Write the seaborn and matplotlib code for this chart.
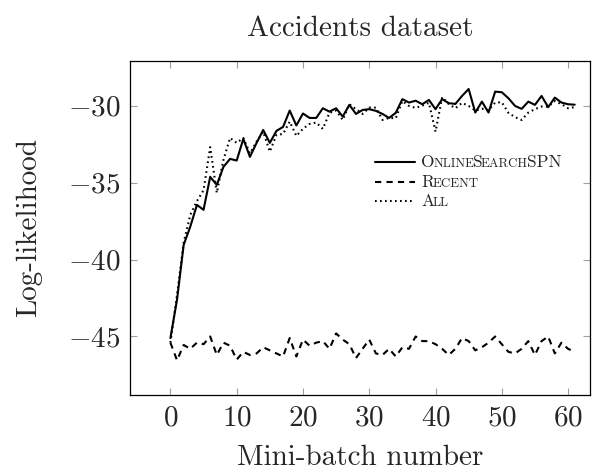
from itertools import groupby

import pandas as pd
import seaborn as sns
import matplotlib.pyplot as plt
from matplotlib.lines import Line2D
from matplotlib.offsetbox import AnchoredOffsetbox, DrawingArea, HPacker, TextArea, VPacker

# data
batch = list(range(62))
online = [-45.1, -42.6, -39.05, -37.86, -36.45, -36.77, -34.63, -35.15, -33.98, -33.46,
          -33.57, -32.16, -33.33, -32.42, -31.58, -32.42, -31.64, -31.38, -30.32, -31.29,
          -30.51, -30.8, -30.8, -30.17, -30.39, -30.17, -30.71, -29.95, -30.54, -30.28,
          -30.23, -30.34, -30.54, -30.8, -30.47, -29.58, -29.8, -29.68, -29.91, -29.63,
          -30.23, -29.58, -29.84, -29.89, -29.37, -28.92, -30.45, -29.74, -30.45, -29.09,
          -29.13, -29.52, -30.02, -30.21, -29.74, -29.95, -29.37, -30.1, -29.48, -29.8,
          -29.91, -29.94]
recent = [-45.4, -46.55, -45.55, -45.8, -45.4, -45.5, -45.0, -46.2, -45.4, -45.6,
          -46.5, -46.0, -46.2, -46.1, -45.7, -45.9, -46.1, -46.3, -45.1, -46.3,
          -45.2, -45.6, -45.4, -45.3, -45.8, -44.8, -45.2, -45.5, -46.4, -45.8,
          -45.2, -46.1, -46.2, -45.8, -46.3, -45.7, -45.8, -45.0, -45.3, -45.3,
          -45.5, -45.8, -46.2, -45.8, -45.1, -45.3, -45.9, -45.7, -45.4, -45.0,
          -45.5, -46.0, -46.1, -45.8, -45.3, -46.2, -45.3, -45.0, -46.1, -45.4,
          -45.8, -46.0]
all_batches = [-45.4, -42.3, -38.9, -37.1, -36.2, -35.5, -32.7, -35.67, -33.53, -32.1,
               -32.42, -32.1, -33.1, -32.34, -31.7, -32.99, -31.9, -31.84, -31.04, -31.97,
               -31.5, -31.19, -31.1, -31.51, -30.47, -30.32, -30.93, -29.91, -30.23, -30.54,
               -30.13, -30.13, -30.93, -30.8, -30.82, -29.7, -30.02, -30.15, -30.0, -29.82,
               -31.69, -29.45, -29.9, -30.17, -29.82, -30.02, -30.32, -30.2, -30.3, -29.8,
               -29.78, -30.47, -30.75, -30.93, -30.45, -30.23, -30.06, -30.06, -29.7, -29.9,
               -30.17, -30.1]
methods = ["OnlineSearchSPN", "Recent", "All"]

df = pd.DataFrame({
    "batch": batch * 3,
    "ll": online + recent + all_batches,
    "method": [m for m in methods for _ in batch],
})

sns.set_style("ticks")
plt.rcParams["font.family"] = "serif"
plt.rcParams["font.serif"] = ["cmr10"]
plt.rcParams["mathtext.fontset"] = "cm"
plt.rcParams["axes.formatter.use_mathtext"] = True

dashes = {"OnlineSearchSPN": "", "Recent": (3, 2.5), "All": (0.8, 1.6)}
lw = 1.5

fig = plt.figure(figsize=(6.06, 4.71), dpi=100)
ax = fig.add_axes([0.2145, 0.1614, 0.759, 0.7091])

sns.lineplot(data=df, x="batch", y="ll", style="method", dashes=dashes,
             color="black", lw=lw, legend=False, ax=ax)

ax.set_xlim(-6.1, 63.3)
ax.set_ylim(-48.8, -27.1)
ax.set_xticks(range(0, 61, 10))
ax.set_yticks([-45, -40, -35, -30])
ax.tick_params(direction="in", length=5, width=0.8, color="#a0a0a0",
               top=True, right=True, labelsize=21, pad=7)
for s in ax.spines.values():
    s.set_linewidth(0.9)
    s.set_color("black")

ax.set_title("Accidents dataset", fontsize=21, pad=18)
ax.set_xlabel("Mini-batch number", fontsize=21, labelpad=10)
ax.set_ylabel("Log-likelihood", fontsize=21, labelpad=18)


# legend with small caps labels
def small_caps(word, big=12.5, small=9.3):
    parts = []
    for upper, grp in groupby(word, key=str.isupper):
        txt = "".join(grp)
        size = big if upper else small
        parts.append(TextArea(txt.upper(), textprops=dict(fontsize=size)))
    return HPacker(children=parts, align="baseline", pad=0, sep=-1)


rows = []
for m in methods:
    da = DrawingArea(29, 8, 0, 0)
    ls = "-" if dashes[m] == "" else (0, dashes[m])
    da.add_artist(Line2D([0, 29], [4, 4], color="black", lw=lw, linestyle=ls))
    rows.append(HPacker(children=[da, small_caps(m)], align="center", pad=0, sep=4))
box = VPacker(children=rows, align="left", pad=0, sep=3)
leg = AnchoredOffsetbox(loc="center left", child=box, frameon=False, pad=0, borderpad=0,
                        bbox_to_anchor=(0.533, 0.638), bbox_transform=ax.transAxes)
ax.add_artist(leg)

fig.savefig("out.png", dpi=100)
